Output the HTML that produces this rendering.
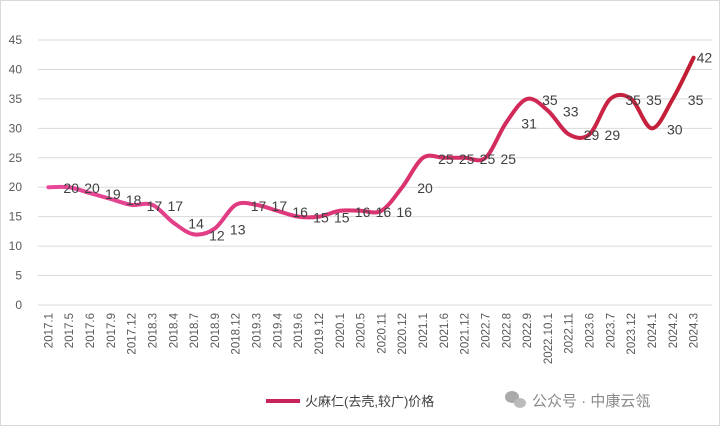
<!DOCTYPE html>
<html><head><meta charset="utf-8">
<style>
body{margin:0;background:#fff;}
svg{display:block;font-family:"Liberation Sans","Noto Sans CJK SC",sans-serif;}
</style></head>
<body>
<svg id="chart" width="720" height="426">
<defs>
<linearGradient id="lg" gradientUnits="userSpaceOnUse" x1="40" x2="700" y1="0" y2="0">
<stop offset="0" stop-color="#e8489a"/><stop offset="0.6" stop-color="#d8306a"/><stop offset="1" stop-color="#c01c30"/>
</linearGradient>
</defs>
<rect x="0.5" y="0.5" width="719" height="425" fill="#fff" stroke="#d9d9d9"/>
<g id="grid"></g><g id="ylab"></g><g id="xlab"></g>
<path id="line" fill="none" stroke="url(#lg)" stroke-width="4" stroke-linecap="round"/>
<g id="vlab"></g>
<g>
<line x1="266" y1="401" x2="300" y2="401" stroke="#c8245a" stroke-width="4"/>
<text x="305" y="406" font-size="13" fill="#404040">火麻仁(去壳,较广)价格</text>
</g>
<g fill="#9a9a9a">
<ellipse cx="512" cy="397" rx="7" ry="6" fill="#aaa"/><ellipse cx="520" cy="403" rx="6" ry="5" fill="#bbb"/>
<text x="532" y="406" font-size="15" fill="#8a8a8a">公众号 · 中康云瓴</text>
</g>
</svg>
<script>
const categories=["2017.1","2017.5","2017.6","2017.9","2017.12","2018.3","2018.4","2018.7","2018.9","2018.12","2019.3","2019.4","2019.6","2019.12","2020.1","2020.5","2020.11","2020.12","2021.1","2021.6","2021.12","2022.7","2022.8","2022.9","2022.10.1","2022.11","2023.6","2023.7","2023.12","2024.1","2024.2","2024.3"];
const values=[20,20,19,18,17,17,14,12,13,17,17,16,15,15,16,16,16,20,25,25,25,25,31,35,33,29,29,35,35,30,35,42];
const yTicks=[0,5,10,15,20,25,30,35,40,45];
const NS="http://www.w3.org/2000/svg";
const x0=38,x1=704,y0=305,yTop=40;
const step=(x1-x0)/categories.length;
const X=i=>x0+step*(i+0.5);
const Y=v=>y0-(v/45)*(y0-yTop);
function mk(t,a,p){const e=document.createElementNS(NS,t);for(const k in a)e.setAttribute(k,a[k]);p.appendChild(e);return e;}
const grid=document.getElementById('grid'),ylab=document.getElementById('ylab'),xlab=document.getElementById('xlab'),vlab=document.getElementById('vlab');
yTicks.forEach(t=>{
 const l=mk('line',{x1:x0,x2:712,y1:Y(t),y2:Y(t),stroke:'#d9d9d9','stroke-width':1},grid);
 
 
 const tx=mk('text',{x:22,y:Y(t)+4,'font-size':12,fill:'#595959','text-anchor':'end'},ylab);
 tx.textContent=t;
 
 
});
categories.forEach((c,i)=>{
 const tx=mk('text',{transform:`translate(${X(i)+4},313) rotate(-90)`,'font-size':11.5,fill:'#595959','text-anchor':'end'},xlab);
 tx.textContent=c;
 
 
});
const pts=values.map((v,i)=>[X(i),Y(v)]);
let d=`M${pts[0][0]},${pts[0][1]}`;
for(let i=0;i<pts.length-1;i++){
 const p0=pts[i-1]||pts[i],p1=pts[i],p2=pts[i+1],p3=pts[i+2]||p2;
 const c1=[p1[0]+(p2[0]-p0[0])/6,p1[1]+(p2[1]-p0[1])/6];
 const c2=[p2[0]-(p3[0]-p1[0])/6,p2[1]-(p3[1]-p1[1])/6];
 d+=` C${c1[0]},${c1[1]} ${c2[0]},${c2[1]} ${p2[0]},${p2[1]}`;
}
document.getElementById('line').setAttribute('d',d);
values.forEach((v,i)=>{
 const last=i===values.length-1;
 const tx=mk('text',{x:X(i)+(last?3:15),y:Y(v)+(last?5:6),'font-size':14,fill:'#404040'},vlab);
 tx.textContent=v;
 
 
});
</script>
</body></html>
